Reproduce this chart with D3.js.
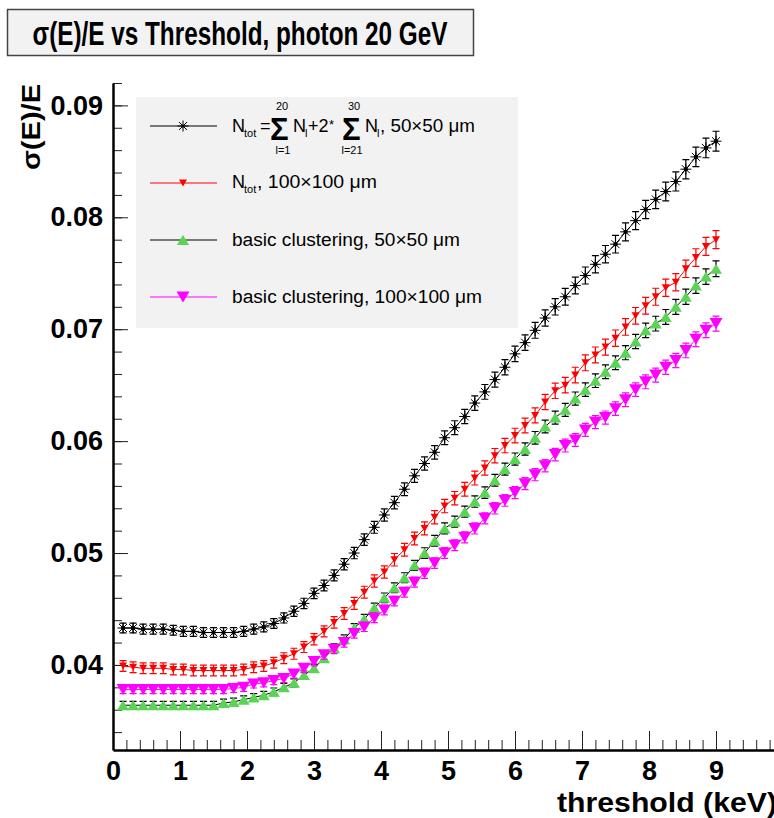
<!DOCTYPE html>
<html>
<head>
<meta charset="utf-8">
<script src="https://cdn.jsdelivr.net/npm/d3@7"></script>
<style>
  body { margin: 0; background: #fff; }
  svg { display: block; font-family: "Liberation Sans", Arial, Helvetica, sans-serif; }
</style>
</head>
<body>
<div id="chart"></div>
<script>
// threshold values (keV)
const thresholds = [
  0.15, 0.3, 0.45, 0.6, 0.75, 0.9, 1.05, 1.2, 1.35, 1.5,
  1.65, 1.8, 1.95, 2.1, 2.25, 2.4, 2.55, 2.7, 2.85, 3.0,
  3.15, 3.3, 3.45, 3.6, 3.75, 3.9, 4.05, 4.2, 4.35, 4.5,
  4.65, 4.8, 4.95, 5.1, 5.25, 5.4, 5.55, 5.7, 5.85, 6.0,
  6.15, 6.3, 6.45, 6.6, 6.75, 6.9, 7.05, 7.2, 7.35, 7.5,
  7.65, 7.8, 7.95, 8.1, 8.25, 8.4, 8.55, 8.7, 8.85, 9.0
];

// N_tot weighted, 50x50 um
const ntot50 = [
  0.0433, 0.0433, 0.0432, 0.0432, 0.0432, 0.0431, 0.0430, 0.0430, 0.0429, 0.0429,
  0.0429, 0.0429, 0.0430, 0.0432, 0.0434, 0.0437, 0.0442, 0.0448, 0.0455, 0.0464,
  0.0471, 0.0480, 0.0490, 0.0500, 0.0512, 0.0523, 0.0534, 0.0545, 0.0557, 0.0569,
  0.0580, 0.0590, 0.0603, 0.0612, 0.0622, 0.0634, 0.0644, 0.0655, 0.0666, 0.0678,
  0.0688, 0.0699, 0.0710, 0.0720, 0.0729, 0.0739, 0.0748, 0.0758, 0.0767, 0.0776,
  0.0787, 0.0797, 0.0807, 0.0816, 0.0823, 0.0832, 0.0843, 0.0854, 0.0862, 0.0868
];
const ntot50Err = [
  0.00044, 0.00044, 0.00044, 0.00044, 0.00044, 0.00044, 0.00044, 0.00044, 0.00044, 0.00044,
  0.00044, 0.00044, 0.00044, 0.00044, 0.00044, 0.00044, 0.00045, 0.00046, 0.00046, 0.00047,
  0.00048, 0.00049, 0.00050, 0.00051, 0.00052, 0.00053, 0.00054, 0.00056, 0.00057, 0.00058,
  0.00059, 0.00060, 0.00062, 0.00062, 0.00063, 0.00065, 0.00066, 0.00067, 0.00068, 0.00069,
  0.00070, 0.00071, 0.00072, 0.00073, 0.00074, 0.00075, 0.00076, 0.00077, 0.00078, 0.00079,
  0.00080, 0.00081, 0.00082, 0.00083, 0.00084, 0.00085, 0.00086, 0.00087, 0.00088, 0.00089
];

// N_tot, 100x100 um
const ntot100 = [
  0.0399, 0.0398, 0.0397, 0.0397, 0.0397, 0.0396, 0.0396, 0.0395, 0.0395, 0.0395,
  0.0395, 0.0395, 0.0396, 0.0398, 0.0399, 0.0402, 0.0406, 0.0410, 0.0416, 0.0423,
  0.0430, 0.0438, 0.0446, 0.0455, 0.0465, 0.0475, 0.0483, 0.0494, 0.0503, 0.0513,
  0.0522, 0.0532, 0.0542, 0.0549, 0.0557, 0.0567, 0.0576, 0.0587, 0.0596, 0.0605,
  0.0614, 0.0623, 0.0635, 0.0645, 0.0650, 0.0659, 0.0670, 0.0677, 0.0684, 0.0692,
  0.0702, 0.0712, 0.0721, 0.0729, 0.0737, 0.0742, 0.0754, 0.0764, 0.0774, 0.0780
];
const ntot100Err = [
  0.00048, 0.00048, 0.00048, 0.00048, 0.00048, 0.00048, 0.00048, 0.00048, 0.00048, 0.00048,
  0.00048, 0.00048, 0.00048, 0.00048, 0.00048, 0.00048, 0.00049, 0.00049, 0.00049, 0.00050,
  0.00050, 0.00051, 0.00052, 0.00053, 0.00053, 0.00054, 0.00055, 0.00056, 0.00057, 0.00057,
  0.00058, 0.00059, 0.00060, 0.00060, 0.00061, 0.00062, 0.00063, 0.00064, 0.00064, 0.00065,
  0.00066, 0.00067, 0.00068, 0.00069, 0.00069, 0.00070, 0.00071, 0.00071, 0.00072, 0.00073,
  0.00074, 0.00074, 0.00075, 0.00076, 0.00077, 0.00077, 0.00078, 0.00079, 0.00080, 0.00080
];

// basic clustering, 50x50 um
const clust50 = [
  0.0364, 0.0364, 0.0364, 0.0364, 0.0364, 0.0364, 0.0364, 0.0364, 0.0364, 0.0364,
  0.0366, 0.0367, 0.0369, 0.0371, 0.0373, 0.0376, 0.0380, 0.0384, 0.0391, 0.0397,
  0.0406, 0.0415, 0.0423, 0.0433, 0.0441, 0.0451, 0.0460, 0.0469, 0.0478, 0.0489,
  0.0500, 0.0511, 0.0522, 0.0528, 0.0537, 0.0546, 0.0554, 0.0565, 0.0575, 0.0584,
  0.0593, 0.0603, 0.0613, 0.0621, 0.0628, 0.0638, 0.0646, 0.0654, 0.0662, 0.0670,
  0.0679, 0.0689, 0.0699, 0.0705, 0.0711, 0.0720, 0.0729, 0.0739, 0.0747, 0.0754
];
const clust50Err = [
  0.00034, 0.00034, 0.00034, 0.00034, 0.00034, 0.00034, 0.00034, 0.00034, 0.00034, 0.00034,
  0.00034, 0.00034, 0.00034, 0.00034, 0.00034, 0.00034, 0.00035, 0.00036, 0.00036, 0.00037,
  0.00038, 0.00039, 0.00039, 0.00040, 0.00041, 0.00042, 0.00043, 0.00044, 0.00044, 0.00045,
  0.00047, 0.00048, 0.00049, 0.00049, 0.00050, 0.00051, 0.00052, 0.00053, 0.00053, 0.00054,
  0.00055, 0.00056, 0.00057, 0.00058, 0.00058, 0.00059, 0.00060, 0.00061, 0.00062, 0.00062,
  0.00063, 0.00064, 0.00065, 0.00066, 0.00066, 0.00067, 0.00068, 0.00069, 0.00069, 0.00070
];

// basic clustering, 100x100 um
const clust100 = [
  0.0378, 0.0378, 0.0378, 0.0378, 0.0378, 0.0378, 0.0378, 0.0378, 0.0378, 0.0378,
  0.0378, 0.0379, 0.0380, 0.0383, 0.0384, 0.0386, 0.0388, 0.0392, 0.0397, 0.0403,
  0.0409, 0.0414, 0.0420, 0.0428, 0.0434, 0.0442, 0.0449, 0.0457, 0.0465, 0.0474,
  0.0482, 0.0491, 0.0500, 0.0507, 0.0514, 0.0522, 0.0531, 0.0540, 0.0547, 0.0554,
  0.0562, 0.0570, 0.0578, 0.0588, 0.0596, 0.0601, 0.0610, 0.0617, 0.0621, 0.0629,
  0.0637, 0.0646, 0.0653, 0.0659, 0.0666, 0.0672, 0.0681, 0.0691, 0.0699, 0.0705
];
const clust100Err = [
  0.00036, 0.00036, 0.00036, 0.00036, 0.00036, 0.00036, 0.00036, 0.00036, 0.00036, 0.00036,
  0.00036, 0.00036, 0.00036, 0.00036, 0.00036, 0.00036, 0.00037, 0.00037, 0.00038, 0.00038,
  0.00039, 0.00039, 0.00040, 0.00041, 0.00041, 0.00042, 0.00043, 0.00043, 0.00044, 0.00045,
  0.00046, 0.00047, 0.00048, 0.00048, 0.00049, 0.00050, 0.00050, 0.00051, 0.00052, 0.00053,
  0.00053, 0.00054, 0.00055, 0.00056, 0.00057, 0.00057, 0.00058, 0.00059, 0.00059, 0.00060,
  0.00061, 0.00061, 0.00062, 0.00063, 0.00063, 0.00064, 0.00065, 0.00066, 0.00066, 0.00067
];

// labelled x ticks (10 is off the visible canvas, only its tick mark shows)
const xTicks = [0, 1, 2, 3, 4, 5, 6, 7, 8, 9];
const yTicks = [0.04, 0.05, 0.06, 0.07, 0.08, 0.09];
const legendLabels = [
  null, // built by hand below (sum formula)
  ', 100\u00d7100 \u03bcm',
  'basic clustering, 50\u00d750 \u03bcm',
  'basic clustering, 100\u00d7100 \u03bcm'
];

// marker paths
const star = r => `M${-r},0H${r}M0,${-r}V${r}M${-r*0.72},${-r*0.72}L${r*0.72},${r*0.72}M${-r*0.72},${r*0.72}L${r*0.72},${-r*0.72}`;
const triUp = (w, h) => `M0,${-h/2}L${w/2},${h/2}L${-w/2},${h/2}Z`;
const triDown = (w, h) => `M0,${h/2}L${w/2},${-h/2}L${-w/2},${-h/2}Z`;

const series = [
  {values: ntot50, err: ntot50Err, line: '#000', errColor: '#000', fill: 'none', stroke: '#000', marker: star(5.5), dot: true},
  {values: ntot100, err: ntot100Err, line: '#ff0000', errColor: '#ff0000', fill: '#ff0000', stroke: 'none', marker: triDown(8, 7)},
  {values: clust50, err: clust50Err, line: '#000', errColor: '#000', fill: '#59d454', stroke: 'none', marker: triUp(12, 10)},
  {values: clust100, err: clust100Err, line: '#ff00ff', errColor: '#ff00ff', fill: '#ff00ff', stroke: 'none', marker: triDown(13, 11)}
];

const width = 774, height = 818;

const svg = d3.select('#chart')
  .append('svg')
    .attr('width', width)
    .attr('height', height);

const x = d3.scaleLinear().domain([0, 10]).range([113, 783]);
const y = d3.scaleLinear().domain([0.0324, 0.092]).range([750, 83]);

// Title box
svg.append('rect')
  .attr('x', 7.5).attr('y', 9.5)
  .attr('width', 466).attr('height', 46)
  .attr('fill', '#f2f2f2')
  .attr('stroke', '#444')
  .attr('stroke-width', 1.5);

svg.append('text')
  .attr('x', 240).attr('y', 45)
  .attr('text-anchor', 'middle')
  .attr('font-size', 33)
  .attr('font-weight', 'bold')
  .attr('textLength', 415)
  .attr('lengthAdjust', 'spacingAndGlyphs')
  .text('\u03c3(E)/E vs Threshold, photon 20 GeV');

// Axes: minor ticks first, then majors with labels
svg.append('g')
    .attr('transform', 'translate(0,750)')
    .call(d3.axisBottom(x).tickValues(d3.range(0, 10.001, 0.2)).tickFormat('').tickSize(-10).tickSizeOuter(0))
    .call(g => g.select('.domain').remove())
    .call(g => g.selectAll('line').attr('stroke', '#222'));

svg.append('g')
    .attr('transform', 'translate(0,750)')
    .call(d3.axisBottom(x).tickValues(xTicks).tickFormat(d3.format('d')).tickSizeInner(-19).tickSizeOuter(0).tickPadding(11))
    .call(g => g.select('.domain').attr('stroke', '#000').attr('stroke-width', 2.5))
    .call(g => g.selectAll('line').attr('stroke', '#222'))
    .call(g => g.selectAll('text')
      .attr('fill', '#000')
      .attr('font-size', 27)
      .attr('font-weight', 'bold')
      .attr('font-family', '"Liberation Sans", Arial, sans-serif'));

svg.append('g')
    .attr('transform', 'translate(113,0)')
    .call(d3.axisLeft(y).tickValues(d3.range(0.034, 0.0921, 0.002)).tickFormat('').tickSize(-9).tickSizeOuter(0))
    .call(g => g.select('.domain').remove())
    .call(g => g.selectAll('line').attr('stroke', '#222'));

svg.append('g')
    .attr('transform', 'translate(113,0)')
    .call(d3.axisLeft(y).tickValues(yTicks).tickFormat(d3.format('.2f')).tickSizeInner(-15).tickSizeOuter(0).tickPadding(10))
    .call(g => g.select('.domain').attr('stroke', '#000').attr('stroke-width', 2.5))
    .call(g => g.selectAll('line').attr('stroke', '#222'))
    .call(g => g.selectAll('text')
      .attr('fill', '#000')
      .attr('font-size', 27)
      .attr('font-weight', 'bold')
      .attr('font-family', '"Liberation Sans", Arial, sans-serif'));

// Axis titles
svg.append('text')
  .attr('x', 557).attr('y', 812)
  .attr('font-size', 27)
  .attr('font-weight', 'bold')
  .attr('textLength', 220)
  .attr('lengthAdjust', 'spacingAndGlyphs')
  .text('threshold (keV)');

svg.append('text')
  .attr('transform', 'translate(40,84) rotate(-90)')
  .attr('text-anchor', 'end')
  .attr('font-size', 26)
  .attr('font-weight', 'bold')
  .attr('textLength', 86)
  .attr('lengthAdjust', 'spacingAndGlyphs')
  .text('\u03c3(E)/E');

// Graphs
const line = d3.line()
  .x((d, i) => x(thresholds[i]))
  .y(d => y(d));

series.forEach(s => {
  const g = svg.append('g');

  g.append('path')
    .datum(s.values)
    .attr('fill', 'none')
    .attr('stroke', s.line)
    .attr('stroke-width', 1)
    .attr('d', line);

  const pts = g.selectAll('.pt')
    .data(s.values)
    .join('g')
      .attr('class', 'pt')
      .attr('transform', (d, i) => `translate(${x(thresholds[i])},${y(d)})`);

  // error bars with end caps
  pts.append('path')
    .attr('fill', 'none')
    .attr('stroke', s.errColor)
    .attr('stroke-width', 1.2)
    .attr('d', (d, i) => {
      const lo = y(d - s.err[i]) - y(d), hi = y(d + s.err[i]) - y(d);
      return `M0,${lo}V${hi}M-3.5,${lo}H3.5M-3.5,${hi}H3.5`;
    });

  pts.append('path')
    .attr('d', s.marker)
    .attr('fill', s.fill)
    .attr('stroke', s.stroke)
    .attr('stroke-width', 1);

  if(s.dot){
    pts.append('circle').attr('r', 2.2).attr('fill', '#000');
  }
});

// Legend
const legend = svg.append('g').attr('class', 'legend');

legend.append('rect')
  .attr('x', 136).attr('y', 97)
  .attr('width', 382).attr('height', 231)
  .attr('fill', '#f2f2f2');

const rowY = [126, 183, 240, 297];

series.forEach((s, i) => {
  legend.append('line')
    .attr('x1', 150).attr('x2', 217)
    .attr('y1', rowY[i]).attr('y2', rowY[i])
    .attr('stroke', s.line)
    .attr('stroke-width', 1);
  legend.append('path')
    .attr('transform', `translate(183,${rowY[i]})`)
    .attr('d', s.marker)
    .attr('fill', s.fill)
    .attr('stroke', s.stroke);
  if(s.dot){
    legend.append('circle').attr('cx', 183).attr('cy', rowY[i]).attr('r', 1.5);
  }
});

function addText(px, py, size, str, anchor){
  return legend.append('text')
    .attr('x', px).attr('y', py)
    .attr('font-size', size)
    .attr('text-anchor', anchor || 'start')
    .text(str);
}

// row 1: N_tot = sum_{l=1}^{20} N_l + 2* sum_{l=21}^{30} N_l, 50x50 um
addText(232, 132, 18, 'N');
addText(244, 137, 11, 'tot');
addText(260, 132, 18, '=');
addText(270, 140, 31, '\u03a3').attr('font-weight', 'bold');
addText(282, 110, 11, '20', 'middle');
addText(283, 154, 11, 'l=1', 'middle');
addText(293, 132, 18, 'N');
addText(305, 137, 11, 'l');
addText(308, 132, 18, '+2');
addText(329, 129, 13, '*');
addText(342, 140, 31, '\u03a3').attr('font-weight', 'bold');
addText(354, 110, 11, '30', 'middle');
addText(352, 154, 11, 'l=21', 'middle');
addText(365, 132, 18, 'N');
addText(377, 137, 11, 'l');
addText(380, 132, 18, ', 50\u00d750 \u03bcm').attr('textLength', 95).attr('lengthAdjust', 'spacingAndGlyphs');

// row 2
addText(232, 188, 18, 'N');
addText(244, 193, 11, 'tot');
addText(257, 188, 18, legendLabels[1]).attr('textLength', 120).attr('lengthAdjust', 'spacingAndGlyphs');

// rows 3, 4
addText(232, 246, 18, legendLabels[2]).attr('textLength', 228).attr('lengthAdjust', 'spacingAndGlyphs');
addText(232, 303, 18, legendLabels[3]).attr('textLength', 250).attr('lengthAdjust', 'spacingAndGlyphs');
</script>
</body>
</html>
